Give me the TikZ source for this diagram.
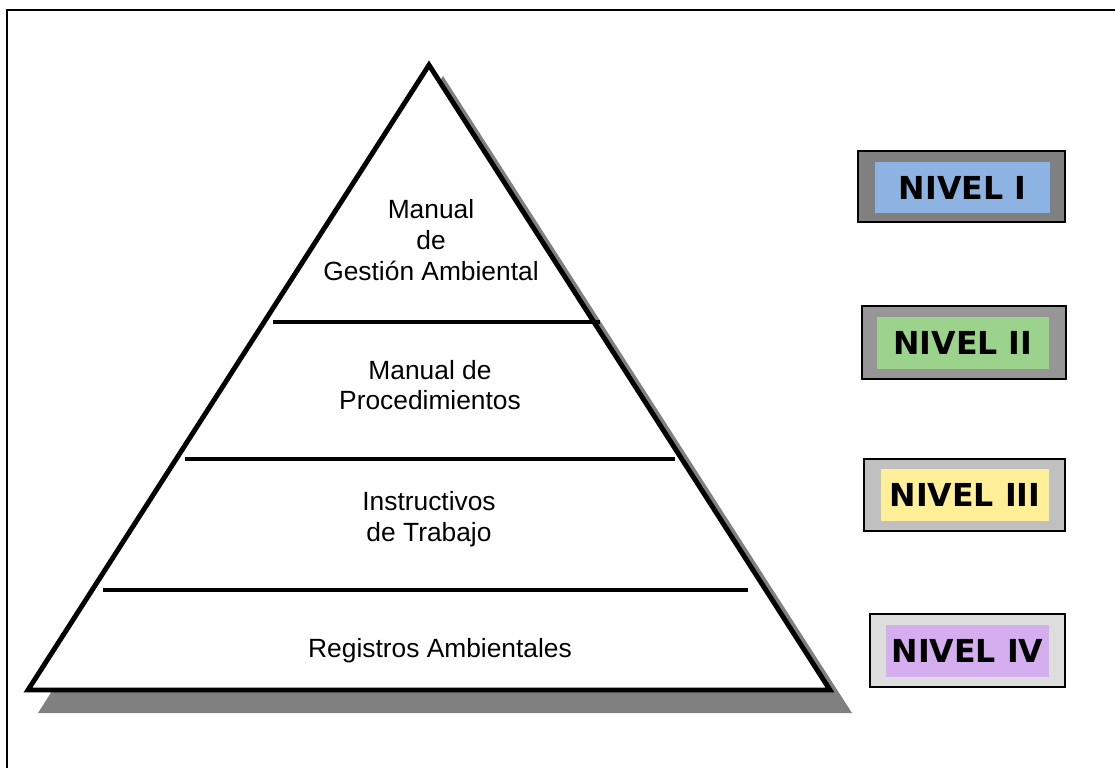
\documentclass[tikz,border=0pt]{standalone}
\usepackage{fontspec}
\setmainfont{Liberation Sans}
\newfontfamily\levelfont{DejaVu Sans}

\definecolor{shadowgray}{HTML}{808080}
\definecolor{outerI}{HTML}{808080}
\definecolor{innerI}{HTML}{8DB3E2}
\definecolor{outerII}{HTML}{969696}
\definecolor{innerII}{HTML}{9BD38C}
\definecolor{outerIII}{HTML}{C0C0C0}
\definecolor{innerIII}{HTML}{FFEF99}
\definecolor{outerIV}{HTML}{DDDDDD}
\definecolor{innerIV}{HTML}{D5AEF0}

\tikzset{
  frameline/.style={line width=1.2pt, black},
  pyramidline/.style={line width=2.8pt, black, line join=miter},
  tierline/.style={line width=2.8pt, black},
  tiertext/.style={align=center, inner sep=0pt, font=\fontsize{15}{17.5}\selectfont},
  levelouter/.style={draw=black, line width=1.1pt, inner sep=0pt},
  levelinner/.style={inner sep=0pt, font=\levelfont\bfseries\fontsize{18}{20}\selectfont}
}

\begin{document}
\begin{tikzpicture}[x=0.02cm, y=-0.02cm]
\useasboundingbox (0,0) rectangle (1115,768);

% page frame (top and left edges)
\draw[frameline] (7,768) |- (1115,10);

% pyramid corners
\coordinate (apex) at (429,65);
\coordinate (bl) at (28,690);
\coordinate (br) at (830,690);

% drop shadow corners
\coordinate (shapex) at (443,76);
\coordinate (shbl) at (38,713);
\coordinate (shbr) at (852,713);
\fill[shadowgray] (shapex) -- (shbl) -- (shbr) -- cycle;

% pyramid
\draw[pyramidline, fill=white] (apex) -- (bl) -- (br) -- cycle;

% tier separators
\coordinate (s1l) at (273,322);
\coordinate (s1r) at (600,322);
\coordinate (s2l) at (185,459);
\coordinate (s2r) at (675,459);
\coordinate (s3l) at (103,590);
\coordinate (s3r) at (748,590);
\draw[tierline] (s1l) -- (s1r);
\draw[tierline] (s2l) -- (s2r);
\draw[tierline] (s3l) -- (s3r);

% tier labels
\node[tiertext] (t1) at (431,240) {Manual\\ de\\Gestión Ambiental};
\node[tiertext] (t2) at (430,385) {Manual de\\Procedimientos};
\node[tiertext] (t3) at (429,519) {Instructivos\\de Trabajo};
\node[tiertext] (t4) at (440,651) {Registros Ambientales};

% level boxes
\node[levelouter, fill=outerI, minimum width=207*0.02cm, minimum height=71*0.02cm] (o1) at (961.5,186.5) {};
\node[levelinner, fill=innerI, minimum width=175*0.02cm, minimum height=51*0.02cm] (n1) at (962.5,187.5) {NIVEL I};

\node[levelouter, fill=outerII, minimum width=204*0.02cm, minimum height=73*0.02cm] (o2) at (964,342.5) {};
\node[levelinner, fill=innerII, minimum width=172*0.02cm, minimum height=52*0.02cm] (n2) at (963,343) {NIVEL II};

\node[levelouter, fill=outerIII, minimum width=201*0.02cm, minimum height=72*0.02cm] (o3) at (964.5,495) {};
\node[levelinner, fill=innerIII, minimum width=168*0.02cm, minimum height=52*0.02cm] (n3) at (965,495) {NIVEL III};

\node[levelouter, fill=outerIV, minimum width=195*0.02cm, minimum height=73*0.02cm] (o4) at (967.5,650.5) {};
\node[levelinner, fill=innerIV, minimum width=163*0.02cm, minimum height=52*0.02cm] (n4) at (967.5,651) {NIVEL IV};
\end{tikzpicture}
\end{document}
